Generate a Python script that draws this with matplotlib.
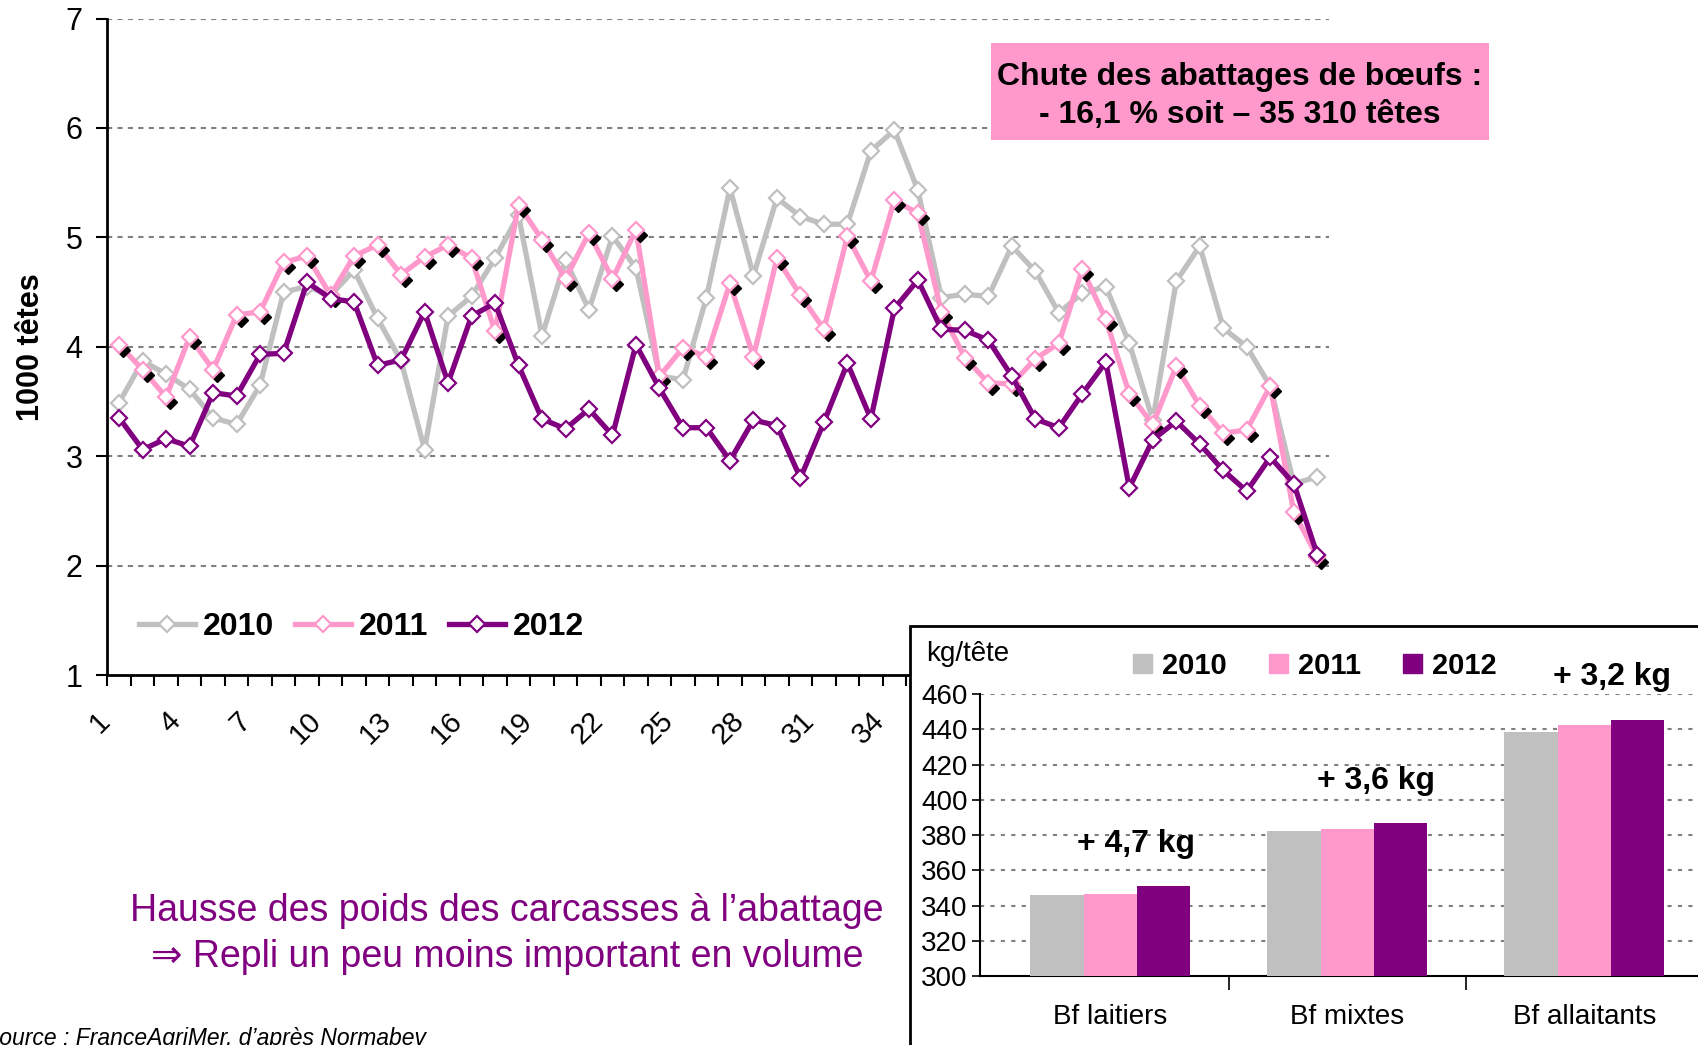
import matplotlib
matplotlib.use('Agg')
import matplotlib.pyplot as plt
import matplotlib.transforms as mtransforms
from matplotlib.patches import Rectangle, Patch
from matplotlib.lines import Line2D
import numpy as np

plt.rcParams['font.family'] = ['Liberation Sans', 'DejaVu Sans']

# abattages hebdomadaires de boeufs (1000 tetes)
semaines = list(range(1, 53))
abat_2010 = [3.49, 3.87, 3.75, 3.61, 3.35, 3.29, 3.65, 4.50, 4.55, 4.47,
             4.70, 4.26, 3.87, 3.06, 4.28, 4.46, 4.81, 5.20, 4.10, 4.79,
             4.34, 5.01, 4.72, 3.73, 3.70, 4.45, 5.45, 4.65, 5.36, 5.19,
             5.12, 5.12, 5.79, 5.98, 5.43, 4.45, 4.48, 4.46, 4.92, 4.69,
             4.31, 4.49, 4.55, 4.03, 3.33, 4.60, 4.92, 4.17, 4.00, 3.64,
             2.75, 2.81]
abat_2011 = [4.02, 3.79, 3.54, 4.09, 3.79, 4.29, 4.32, 4.77, 4.83, 4.47,
             4.83, 4.93, 4.66, 4.82, 4.93, 4.81, 4.14, 5.30, 4.98, 4.62,
             5.04, 4.62, 5.07, 3.73, 3.99, 3.91, 4.58, 3.91, 4.81, 4.47,
             4.16, 5.01, 4.60, 5.34, 5.22, 4.32, 3.90, 3.67, 3.66, 3.89,
             4.03, 4.71, 4.25, 3.57, 3.29, 3.82, 3.46, 3.21, 3.24, 3.64,
             2.49, 2.08]
abat_2012 = [3.35, 3.06, 3.16, 3.09, 3.58, 3.55, 3.93, 3.94, 4.59, 4.44,
             4.41, 3.83, 3.88, 4.32, 3.67, 4.28, 4.40, 3.83, 3.34, 3.25,
             3.43, 3.19, 4.02, 3.62, 3.26, 3.26, 2.96, 3.33, 3.28, 2.80,
             3.31, 3.85, 3.34, 4.35, 4.61, 4.16, 4.15, 4.06, 3.73, 3.34,
             3.26, 3.57, 3.86, 2.71, 3.15, 3.32, 3.11, 2.87, 2.68, 2.99,
             2.75, 2.10]

# poids moyens des carcasses (kg/tete)
categories = ['Bf laitiers', 'Bf mixtes', 'Bf allaitants']
poids_2010 = [345.8, 382.3, 438.5]
poids_2011 = [346.4, 383.2, 442.3]
poids_2012 = [351.1, 386.8, 445.5]
hausses = ['+ 4,7 kg', '+ 3,6 kg', '+ 3,2 kg']
annees = ['2010', '2011', '2012']

gris = '#C0C0C0'
rose = '#FF99CC'
violet = '#800080'

W, H = 1698, 1045
fig = plt.figure(figsize=(W / 100, H / 100), dpi=100)


def fx(px):
    return px / W


def fy(py):
    return 1 - py / H


# --- graphique principal ---
ax = fig.add_axes([fx(107.4), fy(675), fx(1329) - fx(107.4), fy(18.5) - fy(675)])

style = dict(lw=3.8, marker='D', ms=7.8, mfc='white', mew=1.6)
ax.plot(semaines, abat_2010, color=gris, mec=gris, zorder=3, **style)

ombre = mtransforms.offset_copy(ax.transData, fig=fig, x=4, y=-5, units='dots')
ax.plot(semaines, abat_2011, color=rose, lw=3.8, zorder=4)
ax.plot(semaines, abat_2011, ls='none', marker='D', ms=7.5, color='black',
        transform=ombre, zorder=4.1)
ax.plot(semaines, abat_2011, ls='none', marker='D', ms=7.8, mfc='white',
        mec=rose, mew=1.6, zorder=4.2)

ax.plot(semaines, abat_2012, color=violet, mec=violet, zorder=5, **style)

ax.set_xlim(0.5, 52.5)
ax.set_ylim(1, 7)
ax.set_yticks(range(1, 8))
ax.tick_params(axis='y', labelsize=22, length=8, width=1.5, pad=10)
ax.set_xticks(semaines[::3])
ax.set_xticklabels([str(s) for s in semaines[::3]], rotation=45, ha='right',
                   va='center', rotation_mode='anchor', fontsize=21)
ax.tick_params(axis='x', which='major', length=0, pad=30)
ax.set_xticks(np.arange(0.5, 53, 1), minor=True)
ax.tick_params(axis='x', which='minor', length=8, width=1.5)
decal = mtransforms.ScaledTranslation(-14 / 100, 0, fig.dpi_scale_trans)
for lbl in ax.get_xticklabels():
    lbl.set_transform(lbl.get_transform() + decal)

for v in range(2, 8):
    ax.axhline(v, color='#808080', lw=1.5, dashes=(2.5, 2.5), zorder=1)
for s in ['top', 'right']:
    ax.spines[s].set_visible(False)
for s in ['left', 'bottom']:
    ax.spines[s].set_linewidth(2)

ax.set_ylabel('1000 têtes', fontsize=22, fontweight='bold')
ax.yaxis.set_label_coords(-0.05, 0.5)

poignees = [Line2D([], [], color=c, mec=c, **style) for c in [gris, rose, violet]]
ax.legend(poignees, annees, loc='center left', bbox_to_anchor=(fx(123), fy(627)),
          bbox_transform=fig.transFigure, ncol=3, frameon=False, borderpad=0,
          prop={'weight': 'bold', 'size': 23}, handlelength=1.75,
          handletextpad=0.25, columnspacing=0.65)

# encadre rose
fig.patches.append(Rectangle((fx(991), fy(140)), fx(1489) - fx(991), fy(43) - fy(140),
                             transform=fig.transFigure, facecolor=rose,
                             edgecolor='none', zorder=5))
fig.text(fx(1240), fy(77), 'Chute des abattages de bœufs :', ha='center', va='center',
         fontsize=23, fontweight='bold', zorder=6)
fig.text(fx(1240), fy(115), '- 16,1 % soit – 35 310 têtes', ha='center', va='center',
         fontsize=23, fontweight='bold', zorder=6)

# commentaire et source
fig.text(fx(507), fy(911), 'Hausse des poids des carcasses à l’abattage', ha='center',
         va='center', fontsize=27, color=violet)
fig.text(fx(507), fy(957), '⇒ Repli un peu moins important en volume', ha='center',
         va='center', fontsize=27, color=violet)
fig.text(fx(-16), fy(1045), 'Source : FranceAgriMer, d’après Normabev', ha='left',
         va='baseline', fontsize=16.5, style='italic')

# --- encart poids ---
fig.patches.append(Rectangle((fx(910), fy(1100)), 1, fy(626) - fy(1100),
                             transform=fig.transFigure, facecolor='white',
                             edgecolor='black', lw=2, zorder=1.5))

ax2 = fig.add_axes([fx(980), fy(976), fx(1703) - fx(980), fy(694) - fy(976)], zorder=2)
ax2.patch.set_visible(False)
x = np.arange(len(categories))
w = 0.225
ax2.bar(x - w, poids_2010, w, color=gris, zorder=3)
ax2.bar(x, poids_2011, w, color=rose, zorder=3)
ax2.bar(x + w, poids_2012, w, color=violet, zorder=3)
ax2.set_xlim(-0.55, 2.5)
ax2.set_ylim(300, 460)
ax2.set_yticks(range(300, 461, 20))
ax2.tick_params(axis='y', labelsize=20, length=6, width=1.2, pad=3)
ax2.set_xticks(x)
ax2.set_xticklabels(categories, fontsize=20)
ax2.tick_params(axis='x', which='major', length=0, pad=20)
ax2.set_xticks([0.5, 1.5], minor=True)
ax2.tick_params(axis='x', which='minor', length=10, width=1.2)
for v in range(320, 461, 20):
    ax2.axhline(v, color='#808080', lw=1.5, dashes=(2, 3), zorder=1)
for s in ['top', 'right']:
    ax2.spines[s].set_visible(False)
for s in ['left', 'bottom']:
    ax2.spines[s].set_linewidth(1.5)

dx = [0.11, 0.12, 0.115]
for i, txt in enumerate(hausses):
    haut = max(poids_2010[i], poids_2011[i], poids_2012[i])
    ax2.text(i + dx[i], haut + 24, txt, ha='center', va='center', fontsize=23,
             fontweight='bold', clip_on=False)

fig.text(fx(926), fy(654), 'kg/tête', ha='left', va='center', fontsize=20, zorder=3)
carres = [Patch(color=c) for c in [gris, rose, violet]]
fig.legend(carres, annees, loc='center left', bbox_to_anchor=(fx(1118), fy(666)),
           ncol=3, frameon=False, borderpad=0, prop={'weight': 'bold', 'size': 21},
           handlelength=0.65, handleheight=0.65, handletextpad=0.35,
           columnspacing=1.45).set_zorder(3)

fig.savefig('out.png', dpi=100)
